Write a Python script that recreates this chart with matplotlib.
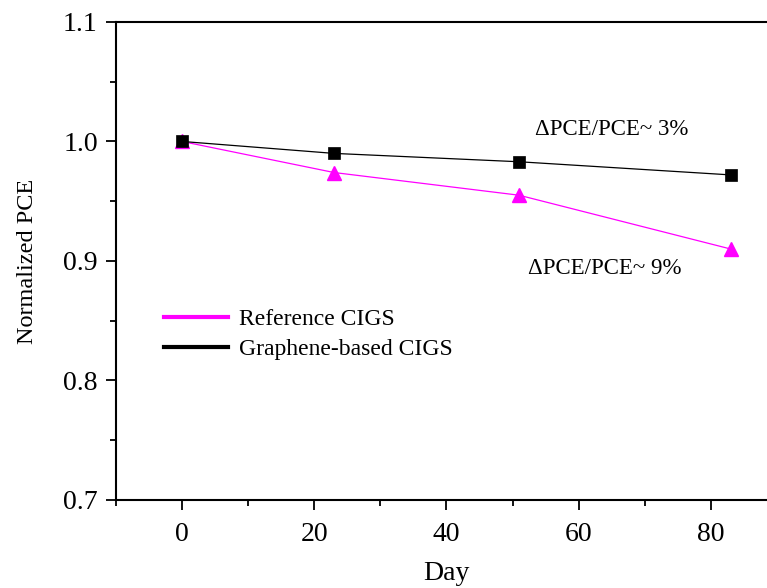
import matplotlib
matplotlib.use("Agg")
import matplotlib.pyplot as plt
from matplotlib.lines import Line2D
from matplotlib.ticker import MultipleLocator

days = [0, 23, 51, 83]
graphene_pce = [1.000, 0.990, 0.983, 0.972]
reference_pce = [1.000, 0.974, 0.955, 0.910]

labels = ["Reference CIGS", "Graphene-based CIGS"]
notes = ["\u0394PCE/PCE~ 3%", "\u0394PCE/PCE~ 9%"]

plt.rcParams["font.family"] = ["Liberation Serif", "DejaVu Serif"]

fig = plt.figure(figsize=(7.67, 5.88), dpi=100)
ax = fig.add_axes([0.151, 0.1497, 0.862, 0.813])

pink = "#ff00ff"
ax.plot(days, reference_pce, color=pink, lw=0.9, marker="^", ms=10,
        markeredgecolor=pink, zorder=3)
ax.plot(days, graphene_pce, color="black", lw=0.9, marker="s", ms=8,
        markeredgecolor="black", markeredgewidth=0.5, zorder=4)

ax.set_xlim(-10, 90)
ax.set_ylim(0.7, 1.1)
ax.xaxis.set_major_locator(MultipleLocator(20))
ax.xaxis.set_minor_locator(MultipleLocator(10))
ax.yaxis.set_major_locator(MultipleLocator(0.1))
ax.yaxis.set_minor_locator(MultipleLocator(0.05))
ax.yaxis.set_major_formatter(matplotlib.ticker.FormatStrFormatter("%.1f"))

ax.tick_params(which="major", direction="out", length=7, width=1.3,
               labelsize=20, pad=6)
ax.tick_params(axis="x", which="major", pad=9)
ax.tick_params(which="minor", direction="out", length=4, width=1.3)
ax.tick_params(top=False, right=False)
for side in ["left", "bottom", "top"]:
    ax.spines[side].set_linewidth(1.5)
ax.spines["right"].set_visible(False)

ax.set_xlabel("Day", fontsize=20, labelpad=10)
ax.set_ylabel("Normalized PCE", fontsize=17.5, labelpad=18)

ax.text(65, 1.0096, notes[0], fontsize=16.5, ha="center", va="center")
ax.text(64, 0.894, notes[1], fontsize=16.5, ha="center", va="center")

handles = [Line2D([], [], color=pink, lw=3),
           Line2D([], [], color="black", lw=3)]
ax.legend(handles, labels, loc="upper left", bbox_to_anchor=(0.04, 0.445),
          frameon=False, fontsize=17, handlelength=2.75, handletextpad=0.45,
          labelspacing=0.35)

fig.savefig("out.png", dpi=100)
